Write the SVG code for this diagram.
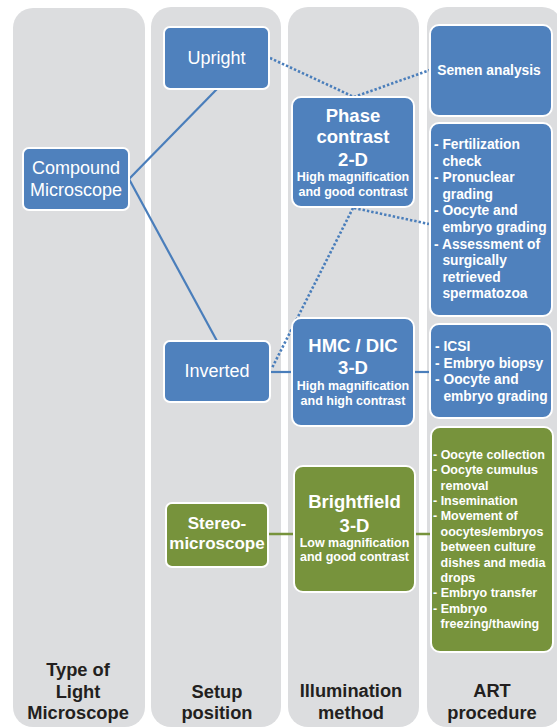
<svg xmlns="http://www.w3.org/2000/svg" width="557" height="727" viewBox="0 0 557 727">
<defs>
<style>
.col{fill:#DCDDDF}
.blue{fill:#4F81BD;stroke:#FFFFFF;stroke-width:2}
.green{fill:#77933C;stroke:#FFFFFF;stroke-width:2}
text{font-family:"Liberation Sans",Arial,sans-serif;fill:#FFFFFF}
.n{font-size:18px}
.b{font-weight:bold}
.big{font-size:18.5px;font-weight:bold}
.sm{font-size:12.5px;font-weight:bold}
.lst{font-size:13.8px;font-weight:bold}
.gl{font-size:12.5px;font-weight:bold}
.hd{font-size:18.3px;font-weight:bold;fill:#231F20}
.c{text-anchor:middle}
.sb{stroke:#4A7EBB;stroke-width:2.2;fill:none}
.sg{stroke:#77933C;stroke-width:2.5;fill:none}
.dot{stroke:#4A7EBB;stroke-width:2.6;fill:none;stroke-dasharray:2.4 2}
</style>
</defs>
<rect width="557" height="727" fill="#FFFFFF"/>
<g id="columns">
<rect class="col" x="13" y="8" width="132" height="719" rx="20"/>
<rect class="col" x="151" y="7" width="130" height="720" rx="20"/>
<rect class="col" x="288" y="7" width="131" height="720" rx="20"/>
<rect class="col" x="427" y="7" width="135" height="720" rx="20"/>
</g>
<g id="labels">
<text class="hd c" x="78" y="676">Type of</text>
<text class="hd c" x="78" y="698">Light</text>
<text class="hd c" x="78" y="719">Microscope</text>
<text class="hd c" x="217" y="698">Setup</text>
<text class="hd c" x="217" y="719">position</text>
<text class="hd c" x="351" y="697">Illumination</text>
<text class="hd c" x="351" y="719">method</text>
<text class="hd c" x="492" y="697">ART</text>
<text class="hd c" x="492" y="719">procedure</text>
</g>
<g id="connectors">
<line class="sb" x1="129" y1="179" x2="217" y2="89"/>
<line class="sb" x1="129" y1="179" x2="217" y2="341"/>
<polyline class="dot" points="270,58 354,97 430,70"/>
<line class="dot" x1="354" y1="208" x2="429" y2="224"/>
<line class="dot" x1="353" y1="208" x2="272" y2="368"/>
<line class="sb" x1="270" y1="372" x2="292" y2="372"/>
<line class="sb" x1="414" y1="372" x2="430" y2="372"/>
<line class="sg" x1="268" y1="534" x2="294" y2="534"/>
<line class="sg" x1="415" y1="534" x2="431" y2="534"/>
</g>
<g id="compound">
<rect class="blue" x="23" y="148" width="106" height="62" rx="6"/>
<text class="n c" x="76" y="174">Compound</text>
<text class="n c" x="76" y="196">Microscope</text>
</g>
<g id="upright">
<rect class="blue" x="164" y="27" width="105" height="62" rx="6"/>
<text class="n c" x="216.5" y="64">Upright</text>
</g>
<g id="inverted">
<rect class="blue" x="164" y="341" width="106" height="61" rx="6"/>
<text class="n c" x="217" y="377">Inverted</text>
</g>
<g id="stereo">
<rect class="green" x="166" y="503" width="102" height="64" rx="6"/>
<text class="c b" style="font-size:17px" x="217" y="529">Stereo-</text>
<text class="c b" style="font-size:17px" x="217" y="549">microscope</text>
</g>
<g id="phase">
<rect class="blue" x="292" y="97" width="122" height="110" rx="9"/>
<text class="big c" x="353" y="122">Phase</text>
<text class="big c" x="353" y="143">contrast</text>
<text class="big c" x="353" y="166">2-D</text>
<text class="sm c" x="353" y="181">High magnification</text>
<text class="sm c" x="353" y="196">and good contrast</text>
</g>
<g id="hmc">
<rect class="blue" x="292" y="318" width="122" height="108" rx="9"/>
<text class="big c" x="353" y="352">HMC / DIC</text>
<text class="big c" x="353" y="374">3-D</text>
<text class="sm c" x="353" y="390">High magnification</text>
<text class="sm c" x="353" y="405">and high contrast</text>
</g>
<g id="brightfield">
<rect class="green" x="294" y="466" width="121" height="126" rx="9"/>
<text class="big c" x="354.5" y="508">Brightfield</text>
<text class="big c" x="354.5" y="532">3-D</text>
<text class="sm c" x="354.5" y="547">Low magnification</text>
<text class="sm c" x="354.5" y="561">and good contrast</text>
</g>
<g id="semen">
<rect class="blue" x="430" y="25" width="122" height="91" rx="9"/>
<text class="lst c" x="489" y="75">Semen analysis</text>
</g>
<g id="fertilization">
<rect class="blue" x="430" y="123" width="122" height="193" rx="9"/>
<text class="lst" x="434" y="149">- Fertilization</text>
<text class="lst" x="442.4" y="165.6">check</text>
<text class="lst" x="434" y="182.2">- Pronuclear</text>
<text class="lst" x="442.4" y="198.8">grading</text>
<text class="lst" x="434" y="215.4">- Oocyte and</text>
<text class="lst" x="442.4" y="232">embryo grading</text>
<text class="lst" x="434" y="248.6">- Assessment of</text>
<text class="lst" x="442.4" y="265.2">surgically</text>
<text class="lst" x="442.4" y="281.8">retrieved</text>
<text class="lst" x="442.4" y="298.4">spermatozoa</text>
</g>
<g id="icsi">
<rect class="blue" x="430" y="324" width="122" height="94" rx="9"/>
<text class="lst" x="435" y="351">- ICSI</text>
<text class="lst" x="435" y="367.6">- Embryo biopsy</text>
<text class="lst" x="435" y="384.2">- Oocyte and</text>
<text class="lst" x="443.4" y="400.8">embryo grading</text>
</g>
<g id="art-green">
<rect class="green" x="431" y="427" width="122" height="225" rx="9"/>
<text class="gl" x="433" y="459">- Oocyte collection</text>
<text class="gl" x="433" y="474.4">- Oocyte cumulus</text>
<text class="gl" x="440.6" y="489.7">removal</text>
<text class="gl" x="433" y="505.1">- Insemination</text>
<text class="gl" x="433" y="520.4">- Movement of</text>
<text class="gl" x="440.6" y="535.8">oocytes/embryos</text>
<text class="gl" x="440.6" y="551.2">between culture</text>
<text class="gl" x="440.6" y="566.5">dishes and media</text>
<text class="gl" x="440.6" y="581.9">drops</text>
<text class="gl" x="433" y="597.2">- Embryo transfer</text>
<text class="gl" x="433" y="612.6">- Embryo</text>
<text class="gl" x="440.6" y="628">freezing/thawing</text>
</g>
</svg>
